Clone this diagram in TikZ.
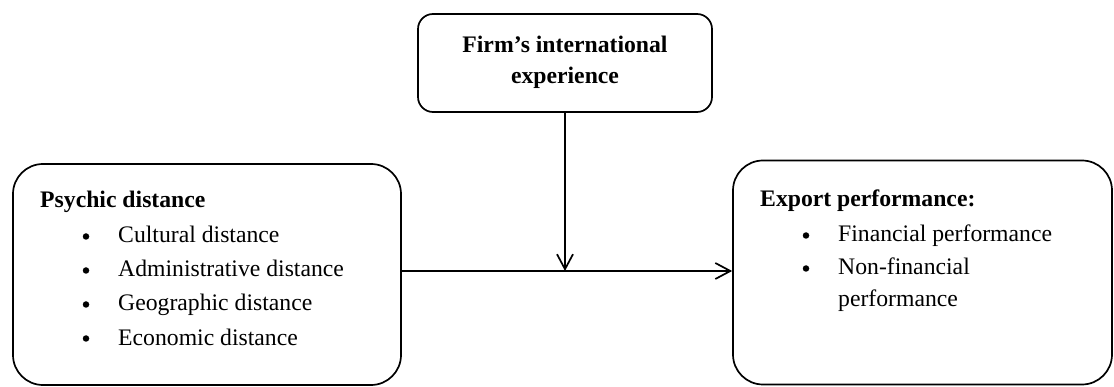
\documentclass[tikz,border=0pt]{standalone}
\usepackage{fontspec}
\setmainfont{Liberation Serif}
\usetikzlibrary{arrows.meta}
\begin{document}
\begin{tikzpicture}[x=1pt,y=-1pt,
  box/.style={draw, line width=1.7pt, rectangle, inner sep=0pt},
  txt/.style={anchor=base west, inner sep=0pt, font=\fontsize{23.7}{33}\selectfont},
  head/.style={txt, font=\fontsize{23.7}{33}\selectfont\bfseries},
  dot/.style={circle, fill, inner sep=0pt, minimum size=6.5pt},
  link/.style={line width=1.7pt, -{Straight Barb[length=15pt,width=16pt,line width=1.7pt]}}]
\useasboundingbox (0,0) rectangle (1114,387);

% boxes
\node[box, rounded corners=15pt, minimum width=294pt, minimum height=98pt] (exp) at (565,63) {};
\node[box, rounded corners=30pt, minimum width=388pt, minimum height=221pt] (psy) at (207,274.5) {};
\node[box, rounded corners=30pt, minimum width=379pt, minimum height=224pt] (perf) at (922.5,272.5) {};

% moderator label
\node[anchor=base, inner sep=0pt, font=\fontsize{23.7}{33}\selectfont\bfseries] (expA) at (565,53) {Firm’s international};
\node[anchor=base, inner sep=0pt, font=\fontsize{23.7}{33}\selectfont\bfseries] (expB) at (565,84) {experience};

% independent variable
\node[head] (psyH) at (40,208) {Psychic distance};
\foreach \n/\t/\y in {1/Cultural distance/243, 2/Administrative distance/277, 3/Geographic distance/311, 4/Economic distance/345}{
  \node[dot] (psyB\n) at (86,\y-6.5) {};
  \node[txt] (psyT\n) at (118,\y) {\t};
}

% dependent variable
\node[head] (perfH) at (760,207) {Export performance:};
\node[dot] (perfB1) at (806,235.5) {};
\node[txt] (perfT1) at (838,242) {Financial performance};
\node[dot] (perfB2) at (806,268.5) {};
\node[txt] (perfT2) at (838,275) {Non-financial};
\node[txt] (perfT3) at (838,307) {performance};

% connectors
\coordinate (meet) at (565,271);
\draw[link] (psy.east |- meet) -- (perf.west |- meet);
\draw[link] (exp.south) -- (meet);
\end{tikzpicture}
\end{document}
